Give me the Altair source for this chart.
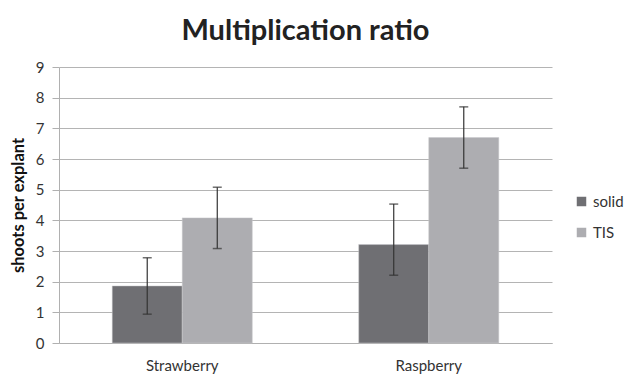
import altair as alt
import pandas as pd

fruits = ["Strawberry", "Strawberry", "Raspberry", "Raspberry"]
methods = ["solid", "TIS", "solid", "TIS"]
means = [1.86, 4.08, 3.21, 6.70]
err_low = [0.92, 1.00, 1.00, 1.00]
err_high = [0.92, 1.00, 1.32, 1.00]

df = pd.DataFrame({"fruit": fruits, "method": methods, "mean": means})
df["lo"] = [m - e for m, e in zip(means, err_low)]
df["hi"] = [m + e for m, e in zip(means, err_high)]

FONT = "Lato"
x = alt.X("fruit:N", sort=["Strawberry", "Raspberry"], title=None,
          scale=alt.Scale(paddingInner=0, paddingOuter=0),
          axis=alt.Axis(labelAngle=0, labelFontSize=15, labelColor="#333333",
                        labelFont=FONT, ticks=False, domainColor="#b0b0b0",
                        labelPadding=15, grid=False))
xo = alt.XOffset("method:N", sort=["solid", "TIS"],
                 scale=alt.Scale(paddingInner=0, paddingOuter=0.76))

base = alt.Chart(df)
bars = base.mark_bar(stroke="#c8c8cc", strokeWidth=0.5).encode(
    x=x, xOffset=xo,
    y=alt.Y("mean:Q", title="shoots per explant",
            scale=alt.Scale(domain=[0, 9]),
            axis=alt.Axis(values=list(range(10)), tickCount=10, gridColor="#b4b4b4",
                          domainColor="#b0b0b0", tickColor="#b0b0b0", tickSize=7,
                          labelFontSize=15, labelColor="#333333", labelFont=FONT,
                          labelPadding=8, titleFont=FONT, titleFontSize=16.5,
                          titleFontWeight="bold", titleColor="#111111", titlePadding=9)),
    color=alt.Color("method:N", sort=["solid", "TIS"],
                    scale=alt.Scale(domain=["solid", "TIS"], range=["#6f6f73", "#adadb1"]),
                    legend=alt.Legend(title=None, orient="none", legendX=515, legendY=127,
                                      symbolType="square", symbolSize=90,
                                      symbolStrokeWidth=0, labelFontSize=15,
                                      labelFont=FONT, labelColor="#333333",
                                      rowPadding=15)),
)
rules = base.mark_rule(color="#333333", strokeWidth=1.2).encode(
    x=x, xOffset=xo, y="lo:Q", y2="hi:Q")
caps_lo = base.mark_tick(color="#333333", size=9, thickness=1.5, orient="horizontal").encode(
    x=x, xOffset=xo, y="lo:Q")
caps_hi = base.mark_tick(color="#333333", size=9, thickness=1.5, orient="horizontal").encode(
    x=x, xOffset=xo, y="hi:Q")

chart = alt.layer(bars, rules, caps_lo, caps_hi).properties(
    width=493, height=276,
    title=alt.Title("Multiplication ratio", fontSize=29, fontWeight="bold",
                    font=FONT, color="#222222", anchor="middle", offset=14, dx=0),
    padding={"left": 59, "top": 67, "right": 78, "bottom": 33},
    autosize=alt.AutoSizeParams(type="none"),
).configure_view(stroke=None)

chart.save("out.html", embed_options={"renderer": "svg", "actions": False})
